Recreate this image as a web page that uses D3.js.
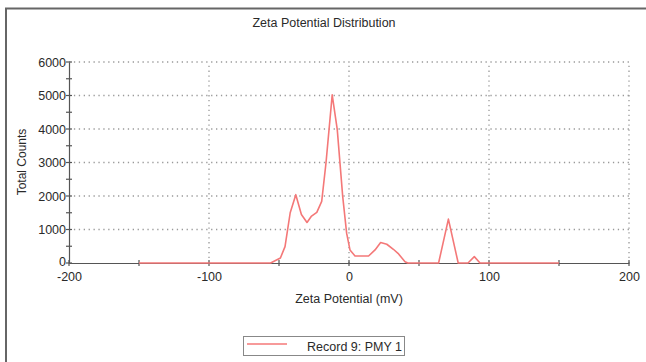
<!DOCTYPE html>
<html><head><meta charset="utf-8">
<script src="https://cdn.jsdelivr.net/npm/d3@7"></script>
<style>body{margin:0;background:#fff}svg{display:block}text{font-family:"Liberation Sans",Arial,sans-serif;fill:#2a2a2a}</style>
</head><body>
<svg id="c" width="646" height="362"></svg>
<script>
const title = "Zeta Potential Distribution";
const xLabel = "Zeta Potential (mV)";
const yLabel = "Total Counts";
const seriesName = "Record 9: PMY 1";
const xTicks = [-200, -100, 0, 100, 200];
const xMinorTicks = [-150, -50, 50, 150];
const yTicks = [0, 1000, 2000, 3000, 4000, 5000, 6000];
const yMinorTicks = [500, 1500, 2500, 3500, 4500, 5500];
const zeta = [-150, -56, -49, -45.7, -42, -38, -34, -30, -27, -23, -19.5, -16.4, -12, -8.4, -4.5, -1.7, 0.7, 4.3, 14, 18.6, 22.6, 27, 31.7, 35, 40, 42, 64, 71, 78, 85, 89.5, 93.6, 150];
const counts = [0, 0, 150, 490, 1500, 2040, 1450, 1210, 1390, 1510, 1840, 3000, 5020, 3990, 1990, 890, 390, 210, 210, 390, 610, 560, 410, 290, 40, 0, 0, 1310, 0, 0, 190, 0, 0];

const svg = d3.select("#c");
const x = d3.scaleLinear().domain([-200, 200]).range([69, 629]);
const y = d3.scaleLinear().domain([0, 6000]).range([263, 62]);
const FONT = "Liberation Sans, Arial, sans-serif";

// frame
svg.append("path").attr("d", "M6,362V8.5H646").attr("fill", "none").attr("stroke", "#666").attr("stroke-width", 2);

// title
svg.append("text").attr("x", 324).attr("y", 27).attr("text-anchor", "middle").attr("font-size", 12.5).text(title);

// grid
const grid = svg.append("g").attr("stroke", "#999").attr("stroke-width", 1.3).attr("stroke-dasharray", "1.3,3.6");
grid.selectAll("line.h").data(yTicks.filter(d => d > 0)).join("line").attr("class", "h")
  .attr("x1", x(-200)).attr("x2", x(200)).attr("y1", d => y(d)).attr("y2", d => y(d));
grid.selectAll("line.v").data(xTicks.filter(d => d > -200)).join("line").attr("class", "v")
  .attr("y1", y(0)).attr("y2", y(6000)).attr("x1", d => x(d)).attr("x2", d => x(d));

// axes
const xAxis = svg.append("g").attr("transform", `translate(0,${y(0)})`)
  .call(d3.axisBottom(x).tickValues(xTicks).tickSize(0).tickPadding(9).tickFormat(d => String(d)));
xAxis.select(".domain").attr("stroke", "#555").attr("stroke-width", 1.2);
xAxis.selectAll("text").attr("font-size", 12.5).attr("fill", "#2a2a2a").attr("font-family", FONT);
const yAxis = svg.append("g").attr("transform", `translate(${x(-200)},0)`)
  .call(d3.axisLeft(y).tickValues(yTicks).tickSize(0).tickPadding(3).tickFormat(d => String(d)));
yAxis.select(".domain").attr("stroke", "#555").attr("stroke-width", 1.2);
yAxis.selectAll("text").attr("font-size", 12.5).attr("fill", "#2a2a2a").attr("font-family", FONT)
  .attr("dy", d => d === 0 ? "0.2em" : "0.32em");

// tick marks crossing axes
const tk = svg.append("g").attr("stroke", "#555").attr("stroke-width", 1.2);
tk.selectAll("line.xt").data(xTicks.concat(xMinorTicks)).join("line").attr("class", "xt")
  .attr("x1", d => x(d)).attr("x2", d => x(d)).attr("y1", y(0) - 3).attr("y2", y(0) + 3);
tk.selectAll("line.yt").data(yTicks.concat(yMinorTicks)).join("line").attr("class", "yt")
  .attr("y1", d => y(d)).attr("y2", d => y(d)).attr("x1", x(-200) - 3).attr("x2", x(-200) + 3);

// axis labels
svg.append("text").attr("x", 349).attr("y", 303).attr("text-anchor", "middle").attr("font-size", 12.5).text(xLabel);
svg.append("text").attr("transform", "translate(26,162) rotate(-90)").attr("text-anchor", "middle").attr("font-size", 12).text(yLabel);

// series
const pts = zeta.map((z, i) => [z, counts[i]]);
svg.append("path").datum(pts)
  .attr("d", d3.line().x(d => x(d[0])).y(d => y(d[1])))
  .attr("fill", "none").attr("stroke", "#f47878").attr("stroke-width", 1.6).attr("stroke-linejoin", "round");

// legend
const lg = svg.append("g");
lg.append("rect").attr("x", 243.5).attr("y", 336.5).attr("width", 161).attr("height", 19).attr("fill", "#fff").attr("stroke", "#888").attr("stroke-width", 1);
lg.append("line").attr("x1", 247).attr("x2", 287).attr("y1", 344).attr("y2", 344).attr("stroke", "#f47878").attr("stroke-width", 1.6);
lg.append("text").attr("x", 402).attr("y", 351).attr("text-anchor", "end").attr("font-size", 12.5).text(seriesName);
</script>
</body></html>
